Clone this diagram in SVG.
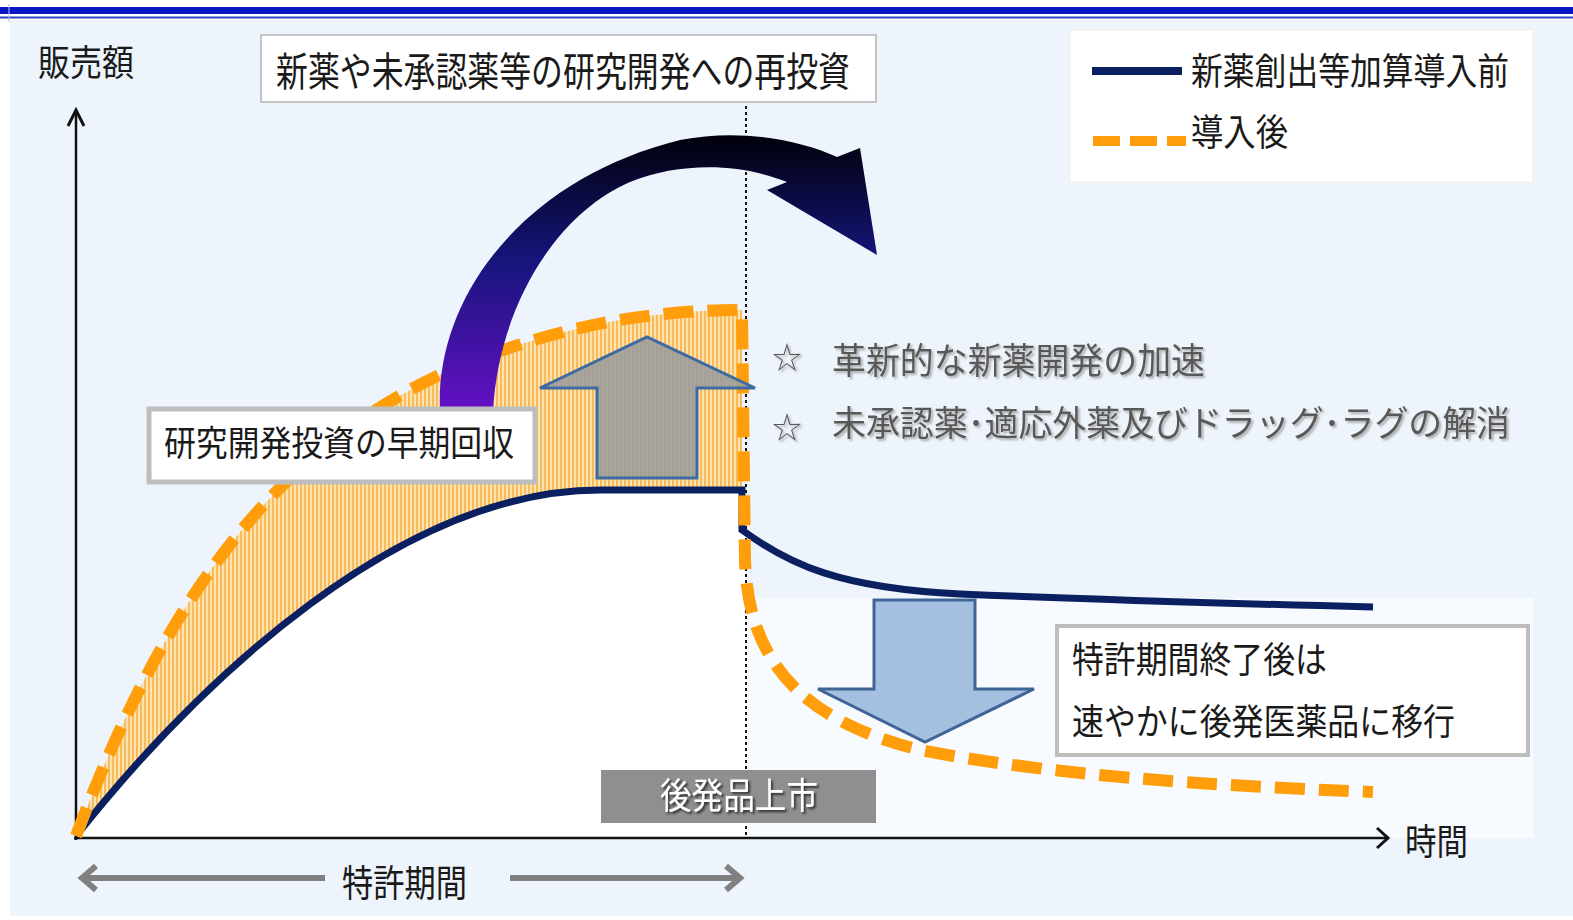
<svg xmlns="http://www.w3.org/2000/svg" width="1573" height="920" viewBox="0 0 1573 920">
<defs>
<style>
.t{font-family:"Noto Sans CJK JP","Noto Sans CJK SC",sans-serif;fill:#1a1a1a}
.st{font-family:"Noto Sans CJK JP","Noto Sans CJK SC",sans-serif;fill:#595959}
.box{fill:#ffffff}
</style>
<pattern id="hatch" width="4" height="10" patternUnits="userSpaceOnUse">
<rect width="4" height="10" fill="#fde3b0"/>
<rect width="2" height="10" fill="#f7bb5c"/>
</pattern>
<linearGradient id="arrowGrad" x1="0" y1="133" x2="0" y2="410" gradientUnits="userSpaceOnUse">
<stop offset="0" stop-color="#000008"/>
<stop offset="0.45" stop-color="#15157a"/>
<stop offset="1" stop-color="#6410c4"/>
</linearGradient>
<filter id="shLight" x="-5%" y="-20%" width="110%" height="140%">
<feDropShadow dx="2" dy="2" stdDeviation="1.2" flood-color="#9a9a9a" flood-opacity="0.8"/>
</filter>
<filter id="shDark" x="-5%" y="-20%" width="110%" height="140%">
<feDropShadow dx="2" dy="2" stdDeviation="1" flood-color="#222" flood-opacity="0.9"/>
</filter>
</defs>

<!-- background -->
<rect x="0" y="0" width="1573" height="920" fill="#ffffff"/>
<rect x="10" y="20" width="1563" height="896" fill="#eef4fc"/>
<rect x="0" y="7" width="1573" height="7" fill="#0a18c4"/>
<rect x="0" y="16.5" width="1573" height="2" fill="#2a44c0"/>
<line x1="9" y1="4" x2="9" y2="22" stroke="#b8c4e8" stroke-width="1"/>

<g id="plot-areas">
<path d="M76,838 L76,836 C200,680 400,490 600,490 L746,490 L746,838 Z" fill="#ffffff"/>
<rect x="746" y="598" width="787" height="240" fill="#ffffff" fill-opacity="0.55"/>
<path d="M76,836 C150,640 250,460 450,370 C560,325 650,310 742,310 L742,490 L600,490 C400,490 200,680 76,836 Z" fill="url(#hatch)"/>
</g>

<g id="connectors">
<line x1="76" y1="840" x2="76" y2="110" stroke="#111" stroke-width="2.5"/>
<polyline points="68,126 76,110 84,126" fill="none" stroke="#111" stroke-width="3"/>
<line x1="74" y1="838" x2="1388" y2="838" stroke="#111" stroke-width="2.5"/>
<polyline points="1377,828 1388,838 1377,848" fill="none" stroke="#111" stroke-width="3"/>
<line x1="746" y1="100" x2="746" y2="838" stroke="#111" stroke-width="2" stroke-dasharray="3,3"/>
<path d="M76,836 C200,680 400,490 600,490 L742,490 L742,530 C790,565 840,588 960,594 C1100,600 1250,604 1373,607" fill="none" stroke="#0b2060" stroke-width="7"/>
<path d="M76,836 C150,640 250,460 450,370 C560,325 650,310 742,310 L745,560 C748,660 800,720 920,750 C1050,775 1200,785 1373,792" fill="none" stroke="#ff9e0a" stroke-width="12" stroke-dasharray="30,14"/>
<line x1="82" y1="878" x2="325" y2="878" stroke="#808080" stroke-width="6"/>
<polyline points="96,866 82,878 96,890" fill="none" stroke="#808080" stroke-width="6"/>
<line x1="510" y1="878" x2="740" y2="878" stroke="#808080" stroke-width="6"/>
<polyline points="726,866 740,878 726,890" fill="none" stroke="#808080" stroke-width="6"/>
</g>

<g id="reinvest-arrow">
<path d="M440,410 C435,300 520,180 680,140 C740,128 800,140 837,157 L860,148 L877,255 L767,190 L787,182 C740,163 680,162 630,182 C560,212 500,300 493,410 Z" fill="url(#arrowGrad)"/>
</g>

<g id="up-arrow">
<path d="M597,478 L597,388 L540,388 L647,337 L755,388 L697,388 L697,478 Z" fill="#9c9c9c" fill-opacity="0.88" stroke="#3d6aa5" stroke-width="3"/>
</g>

<g id="down-arrow">
<path d="M874,600 L975,600 L975,689 L1034,689 L925,742 L818,689 L874,689 Z" fill="#a5bfe0" stroke="#3f6596" stroke-width="3"/>
</g>

<g id="y-label"><text class="t" x="38" y="76" font-size="36" textLength="96" lengthAdjust="spacingAndGlyphs">販売額</text></g>
<g id="x-label"><text class="t" x="1405" y="855" font-size="36" textLength="63" lengthAdjust="spacingAndGlyphs">時間</text></g>

<g id="title-box">
<rect class="box" x="261" y="35" width="615" height="67" stroke="#c4c4c4" stroke-width="2"/>
<text class="t" x="276" y="86" font-size="40" textLength="574" lengthAdjust="spacingAndGlyphs">新薬や未承認薬等の研究開発への再投資</text>
</g>

<g id="legend">
<rect class="box" x="1070" y="30" width="463" height="152" stroke="#f2f2ea" stroke-width="1.5"/>
<line x1="1092" y1="71" x2="1182" y2="71" stroke="#0b2060" stroke-width="8"/>
<line x1="1093" y1="141" x2="1186" y2="141" stroke="#ff9e0a" stroke-width="10" stroke-dasharray="27,10"/>
<text class="t" x="1191" y="85" font-size="37" textLength="318" lengthAdjust="spacingAndGlyphs">新薬創出等加算導入前</text>
<text class="t" x="1191" y="146" font-size="37" textLength="97" lengthAdjust="spacingAndGlyphs">導入後</text>
</g>

<g id="recovery-box">
<rect class="box" x="149" y="409" width="386" height="73" stroke="#bdbdbd" stroke-width="5"/>
<text class="t" x="164" y="456" font-size="35" textLength="350" lengthAdjust="spacingAndGlyphs">研究開発投資の早期回収</text>
</g>

<g id="effects" filter="url(#shLight)">
<text class="st" x="772" y="368" font-size="30">☆</text>
<text class="st" x="832" y="374" font-size="36" textLength="373" lengthAdjust="spacingAndGlyphs">革新的な新薬開発の加速</text>
<text class="st" x="772" y="438" font-size="30">☆</text>
<text class="st" x="832" y="436" font-size="35" textLength="678" lengthAdjust="spacingAndGlyphs">未承認薬･適応外薬及びドラッグ･ラグの解消</text>
</g>

<g id="generic-box">
<rect class="box" x="1057" y="626" width="471" height="129" stroke="#bdbdbd" stroke-width="4"/>
<text class="t" x="1072" y="673" font-size="36" textLength="255" lengthAdjust="spacingAndGlyphs">特許期間終了後は</text>
<text class="t" x="1072" y="735" font-size="36" textLength="383" lengthAdjust="spacingAndGlyphs">速やかに後発医薬品に移行</text>
</g>

<g id="launch-box">
<rect x="601" y="770" width="275" height="53" fill="#8f8f8f"/>
<text x="660" y="809" font-size="36" textLength="158" lengthAdjust="spacingAndGlyphs" fill="#ffffff" font-family="Noto Sans CJK JP, sans-serif" filter="url(#shDark)">後発品上市</text>
</g>

<g id="patent-label">
<text class="t" x="342" y="897" font-size="37" textLength="125" lengthAdjust="spacingAndGlyphs">特許期間</text>
</g>
</svg>
